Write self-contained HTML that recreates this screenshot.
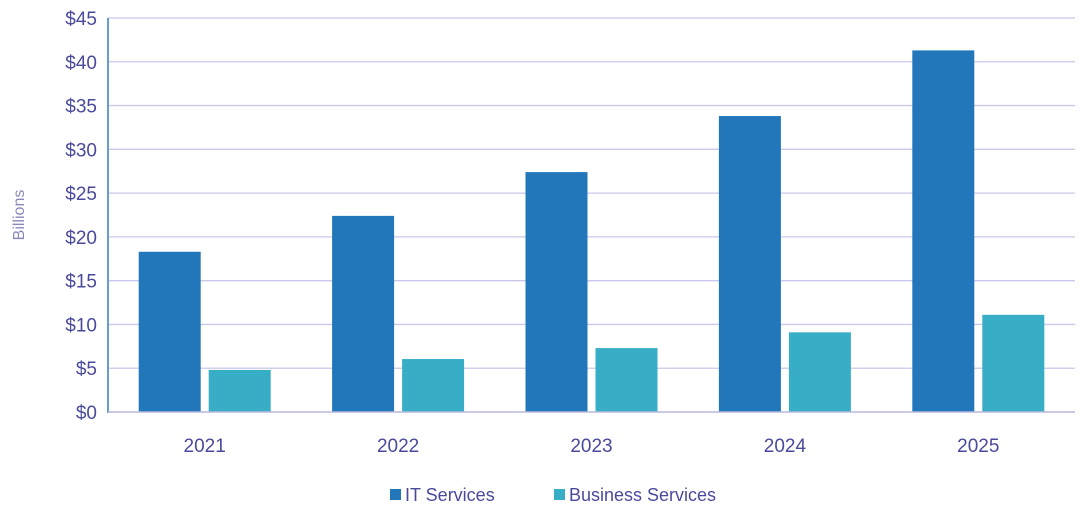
<!DOCTYPE html>
<html><head><meta charset="utf-8"><style>
html,body{margin:0;padding:0;background:#fff;}
svg{display:block;font-family:"Liberation Sans",sans-serif;}
</style></head><body>
<svg id="chart" width="1089" height="511" viewBox="0 0 1089 511" xmlns="http://www.w3.org/2000/svg">
<g id="grid"></g>
<g id="yticks"></g>
<g id="bars"></g>
<g id="xticks"></g>
<line x1="108" y1="18" x2="108" y2="413" stroke="#6a9ccc" stroke-width="2"/>
<line x1="108" y1="412" x2="1075" y2="412" stroke="#b8b8dc" stroke-width="1.5"/>
<text transform="translate(24,215) rotate(-90)" text-anchor="middle" font-size="16" fill="#8888bb">Billions</text>
<g>
<g>
<rect x="390" y="489" width="11" height="11" fill="#2277bb"/>
<text x="405" y="501" font-size="18" fill="#4a4a9c">IT Services</text></g>
<g>
<rect x="554" y="489" width="11" height="11" fill="#38aec6"/>
<text x="569" y="501" font-size="18" fill="#4a4a9c">Business Services</text></g>
</g>
</svg>
<script>
const categories=["2021","2022","2023","2024","2025"];
const itServices=[18.3,22.4,27.4,33.8,41.3];
const businessServices=[4.8,6.05,7.3,9.1,11.1];
const yTicks=[0,5,10,15,20,25,30,35,40,45];
const yTickLabels=["$0","$5","$10","$15","$20","$25","$30","$35","$40","$45"];

const NS="http://www.w3.org/2000/svg";
const x0=108,x1=1075,yBase=412,yTop=18,yMax=45;
const y=v=>yBase-(v/yMax)*(yBase-yTop);
const band=(x1-x0)/categories.length;
const cx=i=>x0+band*(i+0.5);
function mk(tag,attrs,parent){const e=document.createElementNS(NS,tag);for(const k in attrs)e.setAttribute(k,attrs[k]);parent.appendChild(e);return e;}
const grid=document.getElementById('grid'),yt=document.getElementById('yticks'),bars=document.getElementById('bars'),xt=document.getElementById('xticks');
yTicks.forEach((t,i)=>{
  if(t>0){const l=mk('line',{x1:x0,x2:x1,y1:y(t),y2:y(t),stroke:'#c9c9ea','stroke-width':1.3},grid);
  
  }
  const tx=mk('text',{x:97,y:y(t)+7,'text-anchor':'end','font-size':19,fill:'#4a4a9c'},yt);
  tx.textContent=yTickLabels[i];
  
  
});
const bw=62,gap=8;
categories.forEach((c,i)=>{
  const r1=mk('rect',{x:cx(i)-gap/2-bw,y:y(itServices[i]),width:bw,height:yBase-y(itServices[i]),fill:'#2277bb'},bars);
  
  
  const r2=mk('rect',{x:cx(i)+gap/2,y:y(businessServices[i]),width:bw,height:yBase-y(businessServices[i]),fill:'#38aec6'},bars);
  
  
  const t=mk('text',{x:cx(i),y:452,'text-anchor':'middle','font-size':19,fill:'#4a4a9c'},xt);
  t.textContent=c;
  
  
});
</script>
</body></html>
